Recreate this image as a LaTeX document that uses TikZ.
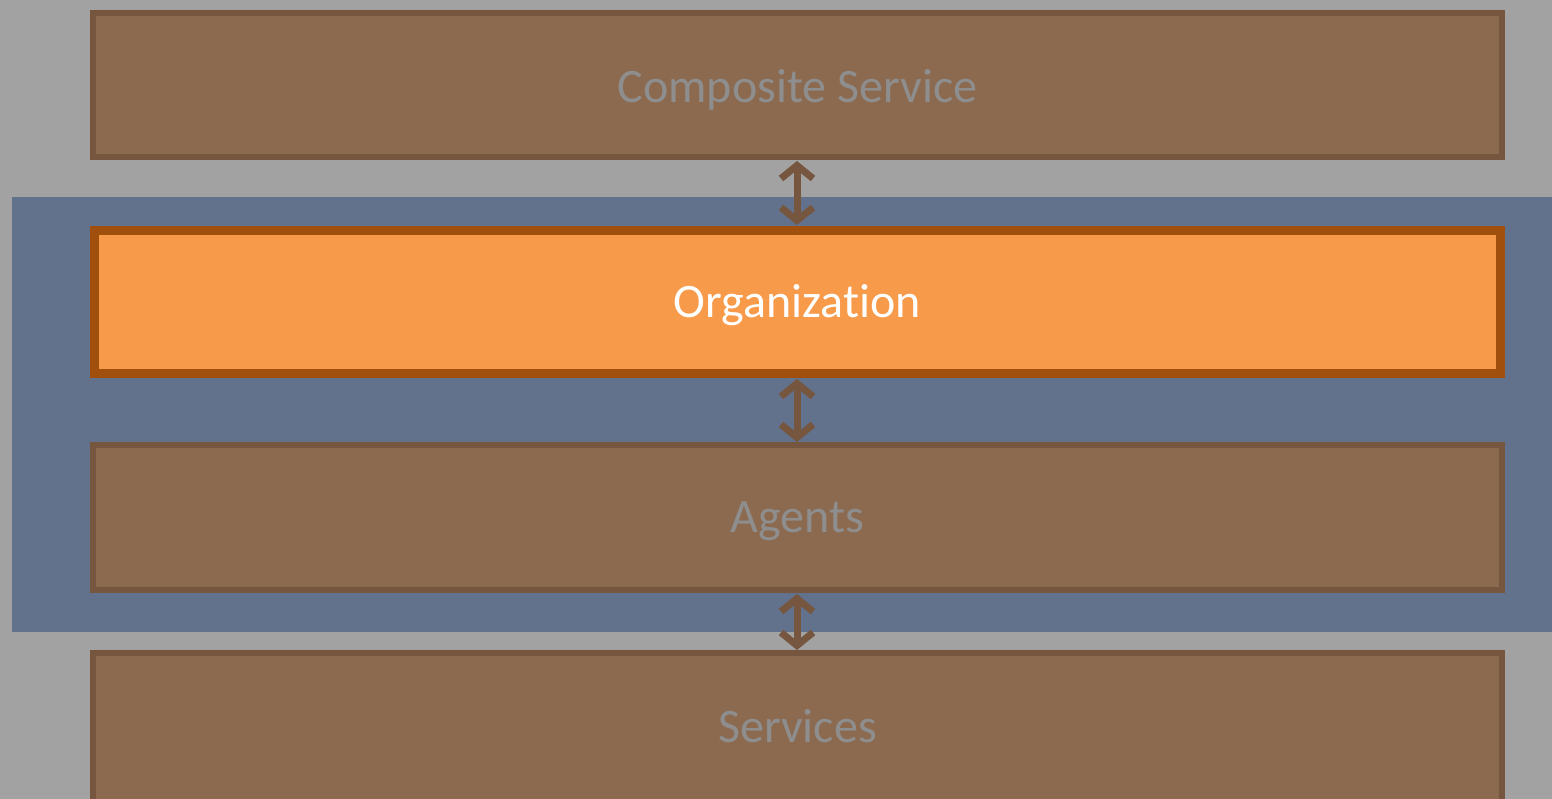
\documentclass[tikz,border=0pt]{standalone}
\usepackage{fontspec}
\setmainfont[Ligatures=NoCommon]{Carlito}
\usetikzlibrary{arrows.meta}
\definecolor{bggray}{HTML}{A2A2A2}
\definecolor{bluebg}{HTML}{63728C}
\definecolor{fadefill}{HTML}{8C6A50}
\definecolor{fadeline}{HTML}{76563F}
\definecolor{fadetext}{HTML}{8E8E8E}
\definecolor{orgfill}{HTML}{F79A4A}
\definecolor{orgline}{HTML}{A0500C}
\tikzset{
  fadebox/.style={draw=fadeline, fill=fadefill, line width=6pt},
  orgbox/.style={draw=orgline, fill=orgfill, line width=9pt},
  boxlabel/.style={font=\fontsize{48}{56}\selectfont},
  link/.style={draw=fadeline, line width=7pt, {Straight Barb[length=13pt,width=32pt,line width=7pt]}-{Straight Barb[length=13pt,width=32pt,line width=7pt]}}
}
\begin{document}
\begin{tikzpicture}[x=1pt,y=-1pt]
\useasboundingbox (0,0) rectangle (1552,799);
\fill[bggray] (0,0) rectangle (1552,799);
\fill[bluebg] (12,197) rectangle (1560,632);
\draw[fadebox] (93,13) rectangle (1502,157);
\node[boxlabel, text=fadetext] (cs) at (797.5,90) {Composite Service};
\draw[orgbox] (94.5,230.5) rectangle (1500.5,373.5);
\node[boxlabel, text=white] (org) at (797.5,305) {Organization};
\draw[fadebox] (93,445) rectangle (1502,590);
\node[boxlabel, text=fadetext] (ag) at (797.5,521) {Agents};
\draw[fadebox] (93,653) rectangle (1502,810);
\node[boxlabel, text=fadetext] (sv) at (797.5,726) {Services};
\coordinate (csb) at (797,161);
\coordinate (orgt) at (797,225);
\coordinate (orgb) at (797,379);
\coordinate (agt) at (797,442);
\coordinate (agb) at (797,594);
\coordinate (svt) at (797,650);
\draw[link] (csb) -- (orgt);
\draw[link] (orgb) -- (agt);
\draw[link] (agb) -- (svt);
\end{tikzpicture}
\end{document}
